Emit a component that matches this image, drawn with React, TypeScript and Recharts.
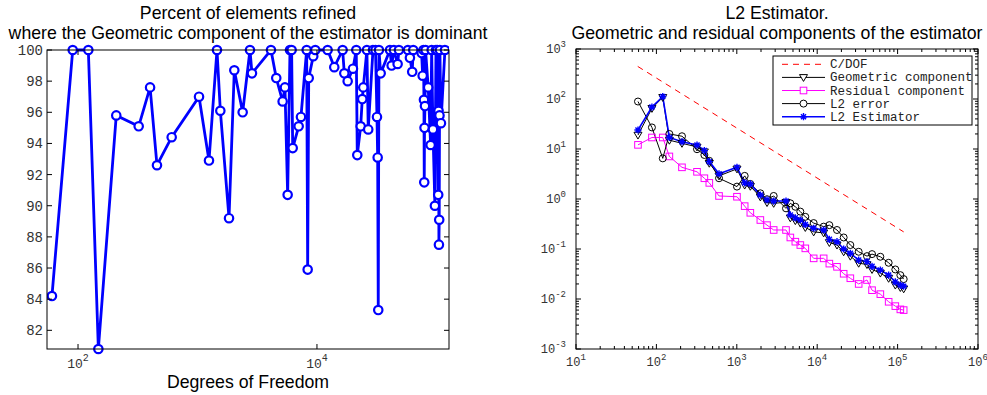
import React from 'react';
import { LineChart, Line, XAxis, YAxis } from 'recharts';

// ---------- Left chart data ----------
const leftDof = [
  60.5, 90.3, 122, 148, 209, 322, 401, 458, 608, 1030, 1248, 1456, 1553, 1836, 2033, 2388, 2750, 2858,
  4121, 4563, 5160, 5395, 5684, 5945, 6137, 6265, 7030, 7345, 8200, 8360, 8530, 9310, 9680, 12280,
  13960, 16400, 16940, 18070, 20010, 21330, 21750, 23220, 23940, 24420, 26190, 26860, 29440, 30900,
  31790, 32220, 32590, 33030, 34140, 40830, 42170, 44060, 47330, 48530, 57760, 59980, 62690, 63960,
  75170, 76680, 77880, 78590, 79060, 79500, 80150, 81090, 85320, 89380, 91200, 93500, 97080, 99080,
  101600, 103500, 104200, 104900, 105500, 106100, 106900, 109100, 117800,
];
const leftPct = [
  84.2, 100, 100, 80.8, 95.8, 95.1, 97.6, 92.6, 94.4, 97.0, 92.9, 100, 96.1, 89.2, 98.7, 96.0, 100, 98.5,
  100, 98.2, 96.7, 97.6, 90.7, 100, 100, 93.7, 95.1, 95.7, 100, 85.9, 98.2, 99.6, 100, 100,
  98.9, 100, 98.5, 98.0, 98.8, 100, 93.25, 95.1, 96.85, 97.6, 100, 94.9, 100, 100,
  95.7, 93.1, 83.3, 100, 98.5, 100, 99.0, 100, 99.1, 100, 100, 99.5, 98.6, 100,
  99.8, 98.35, 100, 96.8, 91.5, 95.0, 96.4, 100, 97.6, 93.9, 100, 94.9, 90.0, 100,
  100, 90.7, 96.1, 87.5, 89.1, 95.8, 100, 95.3, 100,
];
const leftYTicks = [82, 84, 86, 88, 90, 92, 94, 96, 98, 100];
const leftXTicks = [100, 10000];

// ---------- Right chart data ----------
const rightDof = [
  59, 88, 120, 145, 208, 320, 395, 455, 601, 1005, 1253, 1473, 1963, 2376, 2875, 4093, 4634, 5346,
  6168, 7117, 9036, 12030, 14160, 17630, 21340, 25830, 32800, 41600, 48100, 61000, 77400, 93700,
  108200, 119000,
];
const geoComp = [
  19, 65, 108, 15, 13, 11, 8.8, 5.2, 2.9, 4.0, 1.9, 1.8, 1.1, 0.85, 0.82, 0.86, 0.42, 0.37,
  0.33, 0.27, 0.22, 0.21, 0.135, 0.12, 0.088, 0.072, 0.052, 0.049, 0.039, 0.033, 0.026, 0.019,
  0.017, 0.016,
];
const l2Est = [
  24, 69, 112, 17, 14, 12, 9.3, 5.6, 3.2, 4.3, 2.1, 2.0, 1.2, 0.96, 0.91, 0.91, 0.48, 0.42,
  0.38, 0.31, 0.26, 0.24, 0.156, 0.14, 0.10, 0.082, 0.060, 0.056, 0.045, 0.038, 0.030, 0.022,
  0.019, 0.018,
];
const l2Err = [
  89, 27, 6.5, 20, 18, 9.9, 7.6, 5.8, 2.6, 1.77, 2.9, 2.0, 1.3, 0.99, 1.15, 0.65, 0.82, 0.70,
  0.56, 0.44, 0.33, 0.28, 0.30, 0.24, 0.17, 0.12, 0.088, 0.072, 0.079, 0.07, 0.053, 0.039,
  0.030, 0.025,
];
const resComp = [
  12.1, 17, 17, 7.1, 4.3, 3.5, 2.6, 2.1, 1.15, 1.11, 0.72, 0.53, 0.38, 0.30, 0.24, 0.24, 0.17, 0.14,
  0.12, 0.103, 0.065, 0.065, 0.051, 0.044, 0.032, 0.026, 0.020, 0.024, 0.015, 0.0125, 0.0088, 0.0072,
  0.0062, 0.006,
];
const cdofDof = [58.6, 119000];
const cdofVal = [448, 0.22];
const rightXMajor = [1, 2, 3, 4, 5, 6];
const rightYMajor = [-3, -2, -1, 0, 1, 2, 3];

const leftData = leftDof.map((d, i) => ({ dof: d, pct: leftPct[i] }));
const rightData = rightDof.map((d, i) => ({
  dof: d, geo: geoComp[i], res: resComp[i], err: l2Err[i], est: l2Est[i],
}));
const cdofData = cdofDof.map((d, i) => ({ dof: d, c: cdofVal[i] }));

function buildLogTicks(exps: number[]) {
  const t: number[] = [];
  for (let k = 0; k < exps.length; k++) {
    const base = Math.pow(10, exps[k]);
    t.push(base);
    if (k < exps.length - 1) for (let m = 2; m <= 9; m++) t.push(m * base);
  }
  return t;
}
const rightXTicks = buildLogTicks(rightXMajor);
const rightYTicks = buildLogTicks(rightYMajor);

const MONO = '"Liberation Mono", "DejaVu Sans Mono", monospace';
const SANS = '"Liberation Sans", Arial, sans-serif';
const TICK_COLOR = '#333';

const PW_L = 402, PH_L = 299;
const PW_R = 402, PH_R = 300;

function LeftYTick(props: any) {
  const { x, y, payload } = props;
  const v = payload.value;
  return (
    <g>
      {v === 100 && <rect x={x} y={y} width={PW_L} height={PH_L} fill="none" stroke="#000" strokeWidth={1} />}
      <line x1={x} y1={y} x2={x + 5} y2={y} stroke="#000" />
      <line x1={x + PW_L} y1={y} x2={x + PW_L - 5} y2={y} stroke="#000" />
      <text x={x - 4} y={y + 5} textAnchor="end" fontFamily={MONO} fontSize={14} fill={TICK_COLOR}>{v}</text>
    </g>
  );
}

function LeftXTick(props: any) {
  const { x, y, payload } = props;
  const e = Math.round(Math.log10(payload.value));
  return (
    <g>
      <line x1={x} y1={y} x2={x} y2={y - 5} stroke="#000" />
      <line x1={x} y1={y - PH_L} x2={x} y2={y - PH_L + 5} stroke="#000" />
      <text x={x} y={y + 19} textAnchor="middle" fontFamily={MONO} fontSize={13} fill={TICK_COLOR}>
        10<tspan dy={-7} fontSize={10}>{e}</tspan>
      </text>
    </g>
  );
}

function isMajor(v: number) {
  const lg = Math.log10(v);
  return Math.abs(lg - Math.round(lg)) < 1e-6;
}

function RightYTick(props: any) {
  const { x, y, payload } = props;
  const v = payload.value;
  const major = isMajor(v);
  const e = Math.round(Math.log10(v));
  const len = major ? 5 : 3;
  return (
    <g>
      {major && e === 3 && <rect x={x} y={y} width={PW_R} height={PH_R} fill="none" stroke="#000" strokeWidth={1} />}
      <line x1={x} y1={y} x2={x + len} y2={y} stroke="#000" />
      <line x1={x + PW_R} y1={y} x2={x + PW_R - len} y2={y} stroke="#000" />
      {major && (
        <text x={x - 10} y={y + 4} textAnchor="end" fontFamily={MONO} fontSize={12} fill={TICK_COLOR}>
          10<tspan dy={-6} fontSize={9}>{e}</tspan>
        </text>
      )}
    </g>
  );
}

function RightXTick(props: any) {
  const { x, y, payload } = props;
  const v = payload.value;
  const major = isMajor(v);
  const e = Math.round(Math.log10(v));
  const len = major ? 5 : 3;
  return (
    <g>
      <line x1={x} y1={y} x2={x} y2={y - len} stroke="#000" />
      <line x1={x} y1={y - PH_R} x2={x} y2={y - PH_R + len} stroke="#000" />
      {major && (
        <text x={x} y={y + 17} textAnchor="middle" fontFamily={MONO} fontSize={12} fill={TICK_COLOR}>
          10<tspan dy={-6} fontSize={9}>{e}</tspan>
        </text>
      )}
    </g>
  );
}

function triPath(cx: number, cy: number, s: number) {
  return `M${cx - s},${cy - s * 0.7} L${cx + s},${cy - s * 0.7} L${cx},${cy + s} Z`;
}
function starPath(cx: number, cy: number, s: number) {
  const d = s * 0.707;
  return `M${cx - s},${cy} L${cx + s},${cy} M${cx},${cy - s} L${cx},${cy + s} M${cx - d},${cy - d} L${cx + d},${cy + d} M${cx - d},${cy + d} L${cx + d},${cy - d}`;
}

const TriDot = (props: any) => {
  const { cx, cy, index } = props;
  if (cx == null || cy == null) return <g key={`t${index}`} />;
  return <path key={`t${index}`} d={triPath(cx, cy, 4)} fill="none" stroke="#000" strokeWidth={1} />;
};
const SquareDot = (props: any) => {
  const { cx, cy, index } = props;
  if (cx == null || cy == null) return <g key={`s${index}`} />;
  return <rect key={`s${index}`} x={cx - 3.3} y={cy - 3.3} width={6.6} height={6.6} fill="none" stroke="#ff00ff" strokeWidth={1} />;
};
const StarDot = (props: any) => {
  const { cx, cy, index } = props;
  if (cx == null || cy == null) return <g key={`a${index}`} />;
  return <path key={`a${index}`} d={starPath(cx, cy, 3.6)} fill="none" stroke="#0000ff" strokeWidth={1.4} />;
};

function LegendOverlay() {
  const x0 = 773, y0 = 56, w = 199, h = 69;
  const rows = [
    { label: 'C/DOF', kind: 'cdof' },
    { label: 'Geometric component', kind: 'geo' },
    { label: 'Residual component', kind: 'res' },
    { label: 'L2 error', kind: 'err' },
    { label: 'L2 Estimator', kind: 'est' },
  ];
  const lx1 = 782, lx2 = 825, mx = 803.5;
  return (
    <g>
      <rect x={x0} y={y0} width={w} height={h} fill="#fff" stroke="#000" strokeWidth={1} />
      {rows.map((r, i) => {
        const cy = 64.3 + i * 13.1;
        let line: any = null;
        let marker: any = null;
        if (r.kind === 'cdof') line = <line x1={lx1} y1={cy} x2={lx2} y2={cy} stroke="#ff0000" strokeDasharray="6 5" />;
        if (r.kind === 'geo') { line = <line x1={lx1} y1={cy} x2={lx2} y2={cy} stroke="#000" />; marker = <path d={triPath(mx, cy, 4)} fill="#fff" stroke="#000" />; }
        if (r.kind === 'res') { line = <line x1={lx1} y1={cy} x2={lx2} y2={cy} stroke="#ff00ff" />; marker = <rect x={mx - 3.3} y={cy - 3.3} width={6.6} height={6.6} fill="#fff" stroke="#ff00ff" />; }
        if (r.kind === 'err') { line = <line x1={lx1} y1={cy} x2={lx2} y2={cy} stroke="#000" />; marker = <circle cx={mx} cy={cy} r={3.5} fill="#fff" stroke="#000" />; }
        if (r.kind === 'est') { line = <line x1={lx1} y1={cy} x2={lx2} y2={cy} stroke="#0000ff" strokeWidth={1.5} />; marker = <path d={starPath(mx, cy, 3.6)} stroke="#0000ff" strokeWidth={1.4} />; }
        return (
          <g key={r.label}>
            {line}
            {marker}
            <text x={830} y={cy + 4} fontFamily={MONO} fontSize={12.5} fill="#222">{r.label}</text>
          </g>
        );
      })}
    </g>
  );
}

export default function App() {
  return (
    <div style={{ position: 'absolute', left: 0, top: 0, width: 987, height: 395, background: '#fff', overflow: 'hidden' }}>
      <div style={{ position: 'absolute', left: 0, top: 0 }}>
        <LineChart width={500} height={395} margin={{ top: 50, left: 46, right: 51, bottom: 45 }}>
          <XAxis
            dataKey="dof" type="number" scale="log" domain={[55, 127400]} ticks={leftXTicks}
            interval={0} height={1} tickSize={0} tickMargin={0} axisLine={false} tickLine={false}
            tick={<LeftXTick />} allowDataOverflow
          />
          <YAxis
            type="number" domain={[80.8, 100]} ticks={leftYTicks} interval={0} width={1}
            tickSize={0} tickMargin={0} axisLine={false} tickLine={false} tick={<LeftYTick />}
          />
          <Line
            data={leftData} dataKey="pct" stroke="#0000ff" strokeWidth={2.8}
            dot={{ r: 4.2, stroke: '#0000ff', strokeWidth: 2.2, fill: '#fff' }}
            activeDot={false} isAnimationActive={false}
          />
        </LineChart>
      </div>
      <div style={{ position: 'absolute', left: 500, top: 0 }}>
        <LineChart width={487} height={395} margin={{ top: 49, left: 75, right: 9, bottom: 45 }}>
          <XAxis
            dataKey="dof" type="number" scale="log" domain={[10, 1000000]} ticks={rightXTicks}
            interval={0} height={1} tickSize={0} tickMargin={0} axisLine={false} tickLine={false}
            tick={<RightXTick />} allowDataOverflow
          />
          <YAxis
            type="number" scale="log" domain={[0.001, 1000]} ticks={rightYTicks} interval={0} width={1}
            tickSize={0} tickMargin={0} axisLine={false} tickLine={false} tick={<RightYTick />} allowDataOverflow
          />
          <Line data={cdofData} dataKey="c" stroke="#ff0000" strokeWidth={1} strokeDasharray="6 5" dot={false} activeDot={false} isAnimationActive={false} />
          <Line data={rightData} dataKey="res" stroke="#ff00ff" strokeWidth={1} dot={SquareDot} activeDot={false} isAnimationActive={false} />
          <Line data={rightData} dataKey="err" stroke="#000" strokeWidth={1} dot={{ r: 3.5, stroke: '#000', strokeWidth: 1, fill: 'none' }} activeDot={false} isAnimationActive={false} />
          <Line data={rightData} dataKey="geo" stroke="#000" strokeWidth={1} dot={TriDot} activeDot={false} isAnimationActive={false} />
          <Line data={rightData} dataKey="est" stroke="#0000ff" strokeWidth={1.6} dot={StarDot} activeDot={false} isAnimationActive={false} />
        </LineChart>
      </div>
      <svg width={987} height={395} style={{ position: 'absolute', left: 0, top: 0, pointerEvents: 'none' }}>
        <text x={248} y={18.5} textAnchor="middle" fontFamily={SANS} fontSize={17.7} fill="#000">Percent of elements refined</text>
        <text x={248} y={39} textAnchor="middle" fontFamily={SANS} fontSize={17.7} fill="#000">where the Geometric component of the estimator is dominant</text>
        <text x={248} y={388} textAnchor="middle" fontFamily={SANS} fontSize={17.7} fill="#000">Degrees of Freedom</text>
        <text x={777} y={18.5} textAnchor="middle" fontFamily={SANS} fontSize={17.7} fill="#000">L2 Estimator.</text>
        <text x={777} y={39} textAnchor="middle" fontFamily={SANS} fontSize={17.7} fill="#000">Geometric and residual components of the estimator</text>
        <LegendOverlay />
      </svg>
    </div>
  );
}
